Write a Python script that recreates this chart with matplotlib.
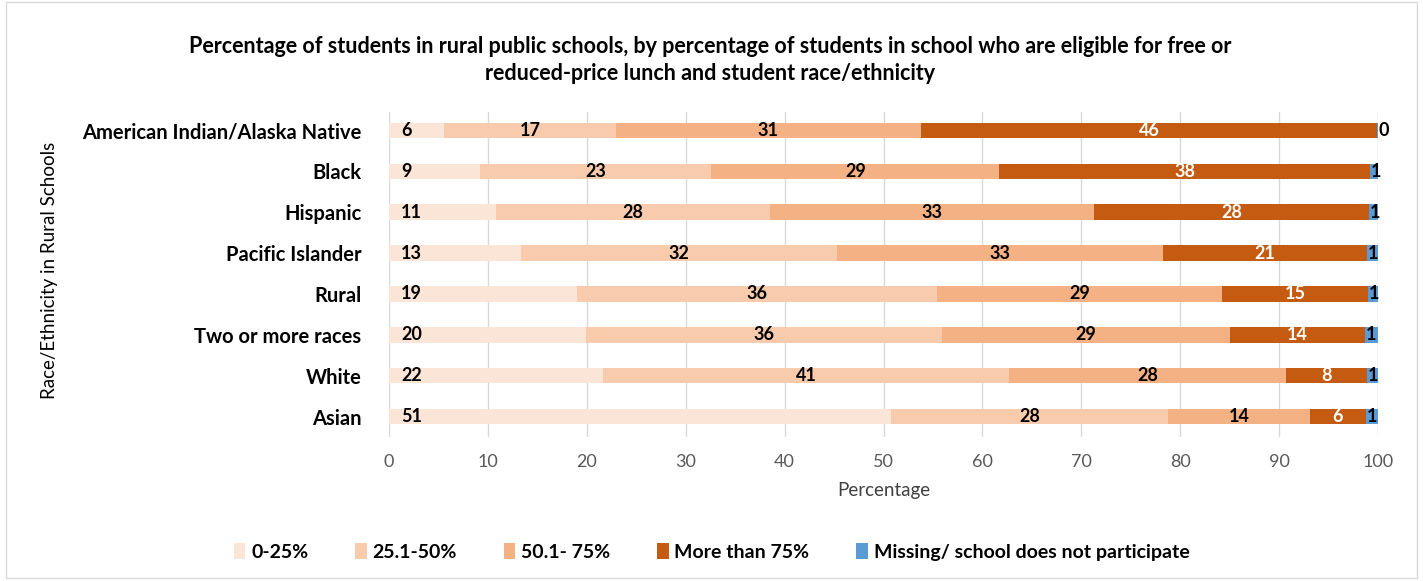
import matplotlib.pyplot as plt
import matplotlib.patches as patches
import numpy as np

# categories, top to bottom
groups = ["American Indian/Alaska Native", "Black", "Hispanic", "Pacific Islander",
          "Rural", "Two or more races", "White", "Asian"]
series = ["0-25%", "25.1-50%", "50.1- 75%", "More than 75%", "Missing/ school does not participate"]

# segment widths and the printed (rounded) labels
low = [5.6, 9.2, 10.8, 13.3, 19.0, 19.9, 21.6, 50.8]
mid_low = [17.3, 23.4, 27.7, 32.0, 36.4, 36.0, 41.1, 28.0]
mid_high = [30.9, 29.1, 32.8, 33.0, 28.8, 29.1, 28.0, 14.3]
high = [46.1, 37.5, 27.8, 20.6, 14.8, 13.7, 8.2, 5.7]
missing = [0.1, 0.8, 0.9, 1.1, 1.0, 1.3, 1.1, 1.2]

low_lbl = [6, 9, 11, 13, 19, 20, 22, 51]
mid_low_lbl = [17, 23, 28, 32, 36, 36, 41, 28]
mid_high_lbl = [31, 29, 33, 33, 29, 29, 28, 14]
high_lbl = [46, 38, 28, 21, 15, 14, 8, 6]
missing_lbl = [0, 1, 1, 1, 1, 1, 1, 1]

colors = ["#fbe5d6", "#f8cbad", "#f4b183", "#c55a11", "#5b9bd5"]
text_colors = ["black", "black", "black", "white", "black"]

plt.rcParams['font.family'] = ['Lato', 'DejaVu Sans']

fig = plt.figure(figsize=(14.23, 5.81), dpi=100)
ax = fig.add_axes([0.2734, 0.2478, 0.695, 0.5594])

# chart border
fig.patches.append(patches.Rectangle((0.004, 0.006), 0.992, 0.99, transform=fig.transFigure,
                                     fill=False, edgecolor='#d9d9d9', linewidth=1))

n = len(groups)
y = np.arange(n)[::-1]
data = [low, mid_low, mid_high, high, missing]
labels = [low_lbl, mid_low_lbl, mid_high_lbl, high_lbl, missing_lbl]
left = np.zeros(n)
for i, (vals, lbls) in enumerate(zip(data, labels)):
    vals = np.array(vals)
    ax.barh(y, vals, left=left, height=0.38, color=colors[i], label=series[i], zorder=2)
    for yy, l, v, t in zip(y, left, vals, lbls):
        if i == 0:
            x, ha = l + 1.2, 'left'
        elif i == 4:
            x, ha = l + 0.1, 'left'
        else:
            x, ha = l + v / 2, 'center'
        ax.text(x, yy, str(t), ha=ha, va='center', fontsize=13, fontweight='bold',
                color=text_colors[i], zorder=3)
    left += vals

ax.set_xlim(0, 100)
ax.set_ylim(-0.5, 7.45)
ax.set_xticks(range(0, 101, 10))
ax.set_yticks(y)
ax.set_yticklabels(groups, fontsize=14.5, fontweight='bold')
ax.tick_params(axis='y', length=0, pad=20)
ax.tick_params(axis='x', length=0, labelsize=13, labelcolor='#595959', pad=12)
ax.grid(axis='x', color='#d9d9d9', linewidth=1, zorder=0)
for s in ax.spines.values():
    s.set_visible(False)

ax.set_xlabel("Percentage", fontsize=13.5, color='#404040', labelpad=9)
fig.text(0.035, 0.535, "Race/Ethnicity in Rural Schools", rotation=90, ha='center', va='center',
         fontsize=13.5, color='black')

fig.text(0.499, 0.896, "Percentage of students in rural public schools, by percentage of students in school who are eligible for free or\n"
         "reduced-price lunch and student race/ethnicity", ha='center', va='center',
         fontsize=15.5, fontweight='bold', linespacing=1.35)

fig.legend(loc='center', bbox_to_anchor=(0.5, 0.05), ncol=5, frameon=False,
           handlelength=0.6, handleheight=0.9, handletextpad=0.3, columnspacing=2.4,
           prop={'weight': 'bold', 'size': 14})

fig.savefig('out.png', dpi=100)
